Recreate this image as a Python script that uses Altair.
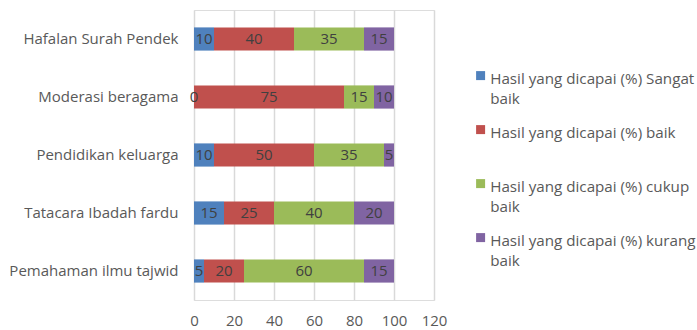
import altair as alt
import pandas as pd

categories = ["Hafalan Surah Pendek", "Moderasi beragama", "Pendidikan keluarga",
              "Tatacara Ibadah fardu", "Pemahaman ilmu tajwid"]
series = ["Hasil yang dicapai (%) Sangat baik", "Hasil yang dicapai (%) baik",
          "Hasil yang dicapai (%) cukup baik", "Hasil yang dicapai (%) kurang baik"]
sangat_baik = [10, 0, 10, 15, 5]
baik = [40, 75, 50, 25, 20]
cukup_baik = [35, 15, 35, 40, 60]
kurang_baik = [15, 10, 5, 20, 15]
colors = ["#4F81BD", "#C0504D", "#9BBB59", "#8064A2"]
x_ticks = [0, 20, 40, 60, 80, 100, 120]

rows = []
for si, (s, vals) in enumerate(zip(series, [sangat_baik, baik, cukup_baik, kurang_baik])):
    for c, v in zip(categories, vals):
        rows.append({"kategori": c, "seri": s, "nilai": v, "urut": si})
df = pd.DataFrame(rows)

FONT = "Open Sans"
FS = 15
LFS = 15.2
TXT = "#595959"
NBSP = "\u00a0"

label_expr = ("datum.label == 'Hasil yang dicapai (%) Sangat baik' ? ['Hasil yang dicapai (%) Sangat', 'baik'] : "
              "datum.label == 'Hasil yang dicapai (%) cukup baik' ? ['Hasil yang dicapai (%) cukup', 'baik'] : "
              "datum.label == 'Hasil yang dicapai (%) kurang baik' ? ['Hasil yang dicapai (%) kurang', 'baik'] : "
              "[datum.label, '" + NBSP + "']")

x_axis = alt.Axis(values=x_ticks, domain=False, ticks=False, labelFont=FONT,
                  labelFontSize=FS, labelColor=TXT, labelPadding=17,
                  labelOverlap=False, labelFlush=False,
                  gridColor="#D9D9D9", gridWidth=1.5)
x_scale = alt.Scale(domain=[0, 120], nice=False)

base = alt.Chart(df).encode(
    y=alt.Y("kategori:N", sort=categories, title=None,
            scale=alt.Scale(paddingInner=0.6, paddingOuter=0.3),
            axis=alt.Axis(domain=False, ticks=False, labelFont=FONT, labelFontSize=FS,
                          labelColor=TXT, labelPadding=16, labelOffset=4,
                          grid=False, labelLimit=300)),
)

bars = base.mark_bar().encode(
    x=alt.X("nilai:Q", stack="zero", title=None, scale=x_scale, axis=x_axis),
    color=alt.Color("seri:N", sort=series, title=None,
                    scale=alt.Scale(domain=series, range=colors),
                    legend=alt.Legend(orient="none", legendX=279, legendY=58, padding=0,
                                      symbolType="square", symbolSize=81,
                                      symbolStrokeWidth=0, gridAlign="all",
                                      labelFont=FONT, labelFontSize=LFS, labelColor=TXT,
                                      labelExpr=label_expr, labelLimit=400,
                                      rowPadding=15, labelBaseline="top", labelOffset=2)),
    order=alt.Order("urut:Q"),
)

labels = base.mark_text(font=FONT, fontSize=FS, color="#404040").encode(
    x=alt.X("mid:Q", title=None, scale=x_scale, axis=x_axis),
    text=alt.Text("nilai:Q"),
).transform_stack(
    stack="nilai", groupby=["kategori"], as_=["x0", "x1"], sort=[alt.SortField("urut")]
).transform_calculate(mid="(datum.x0 + datum.x1) / 2")

chart = alt.layer(bars, labels).properties(
    width=240, height=290,
    autosize=alt.AutoSizeParams(type="none"),
    padding={"left": 194, "top": 10, "right": 263, "bottom": 30},
).configure_view(stroke=None).configure(
    background="white",
    style={"guide-label": alt.MarkConfig(lineHeight=20, dy=-4)},
)

chart.save("out.html", embed_options={"renderer": "svg", "actions": False})
